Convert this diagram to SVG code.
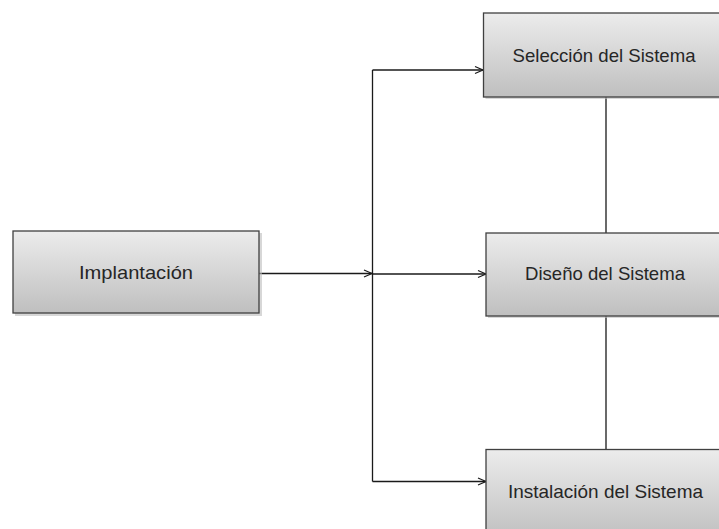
<svg xmlns="http://www.w3.org/2000/svg" width="719" height="529" viewBox="0 0 719 529">
<style>
.box{fill:url(#g);stroke:#404040;stroke-width:1.3}
.sh{fill:#bdbdbd;opacity:0.6}
.t{font-family:"Liberation Sans",Arial,sans-serif;font-size:19px;fill:#262626;text-anchor:middle}
.c{fill:none;stroke:#1a1a1a;stroke-width:1.3}
</style>
<defs>
<linearGradient id="g" x1="0" y1="0" x2="0" y2="1">
<stop offset="0" stop-color="#ececec"/>
<stop offset="1" stop-color="#bfbfbf"/>
</linearGradient>
<marker id="a" markerWidth="12" markerHeight="10" refX="10" refY="5" orient="auto" markerUnits="userSpaceOnUse">
<path d="M2,1.5 L10,5 L2,8.5" fill="none" stroke="#1a1a1a" stroke-width="1.2"/>
</marker>
</defs>
<g id="connectors">
<path class="c" d="M259,273.5 H372" marker-end="url(#a)"/>
<path class="c" d="M372.5,70 V481.5"/>
<path class="c" d="M372.5,70 H483" marker-end="url(#a)"/>
<path class="c" d="M372.5,274 H486" marker-end="url(#a)"/>
<path class="c" d="M372.5,481.5 H486" marker-end="url(#a)"/>
<path class="c" d="M606,97 V233"/>
<path class="c" d="M606,316 V449"/>
</g>
<g id="implantacion">
<rect class="sh" x="15" y="233" width="247" height="83"/>
<rect class="box" x="13" y="231" width="246" height="82"/>
<text class="t" x="136" y="279" textLength="114" lengthAdjust="spacingAndGlyphs">Implantación</text>
</g>
<g id="seleccion">
<rect class="sh" x="485.5" y="15" width="250" height="84"/>
<rect class="box" x="483.5" y="13" width="250" height="84"/>
<text class="t" x="604" y="62" textLength="183" lengthAdjust="spacingAndGlyphs">Selección del Sistema</text>
</g>
<g id="diseno">
<rect class="sh" x="488" y="235" width="250" height="83"/>
<rect class="box" x="486" y="233" width="250" height="83"/>
<text class="t" x="605" y="280" textLength="160" lengthAdjust="spacingAndGlyphs">Diseño del Sistema</text>
</g>
<g id="instalacion">
<rect class="sh" x="488" y="451.5" width="250" height="90"/>
<rect class="box" x="486" y="449.5" width="250" height="90"/>
<text class="t" x="605.5" y="498" textLength="195" lengthAdjust="spacingAndGlyphs">Instalación del Sistema</text>
</g>
</svg>
